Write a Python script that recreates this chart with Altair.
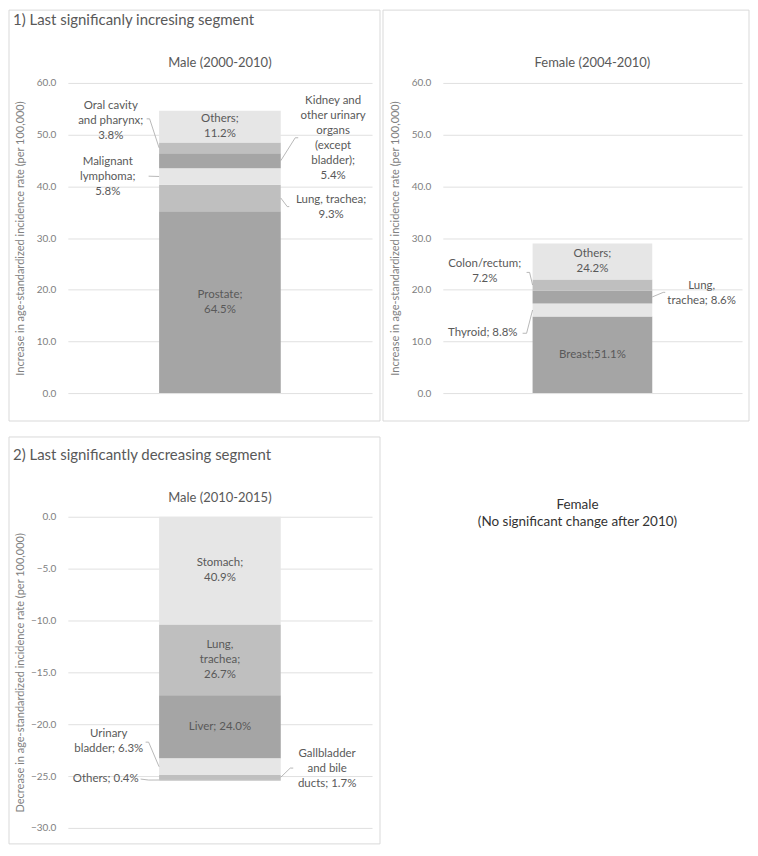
import altair as alt
import pandas as pd
import numpy as np

FONT = "Lato"
LABEL_C = "#595959"
AXIS_C = "#808080"
GRID_C = "#e0e0e0"
FRAME_C = "#d9d9d9"
LEAD_C = "#a6a6a6"
SHADES = {"dark": "#a5a5a5", "mid": "#bfbfbf", "light": "#e6e6e6"}
LH = 15  # label line height (px)

# ---------------- data (segments listed from the zero line outward) ----------------
# 1) Male, 2000-2010, increase in age-standardized incidence rate (per 100,000)
m_inc_sites = ["Prostate", "Lung, trachea", "Malignant lymphoma",
               "Kidney and other urinary organs (except bladder)",
               "Oral cavity and pharynx", "Others"]
m_inc_values = [35.2, 5.1, 3.2, 2.9, 2.1, 6.1]
m_inc_labels = ["Prostate;\n64.5%", "Lung, trachea;\n9.3%", "Malignant\nlymphoma;\n5.8%",
                "Kidney and\nother urinary\norgans\n(except\nbladder);\n5.4%",
                "Oral cavity\nand pharynx;\n3.8%", "Others;\n11.2%"]

# 1) Female, 2004-2010
f_inc_sites = ["Breast", "Thyroid", "Lung, trachea", "Colon/rectum", "Others"]
f_inc_values = [14.8, 2.55, 2.5, 2.1, 7.0]
f_inc_labels = ["Breast;51.1%", "Thyroid; 8.8%", "Lung,\ntrachea; 8.6%",
                "Colon/rectum;\n7.2%", "Others;\n24.2%"]

# 2) Male, 2010-2015, decrease
m_dec_sites = ["Stomach", "Lung, trachea", "Liver", "Urinary bladder",
               "Gallbladder and bile ducts", "Others"]
m_dec_values = [-10.4, -6.8, -6.1, -1.6, -0.43, -0.1]
m_dec_labels = ["Stomach;\n40.9%", "Lung,\ntrachea;\n26.7%", "Liver; 24.0%",
                "Urinary\nbladder; 6.3%", "Gallbladder\nand bile\nducts; 1.7%", "Others; 0.4%"]

# ---------------- styles / layout ----------------
m_inc_shades = ["dark", "mid", "light", "dark", "mid", "light"]
f_inc_shades = ["dark", "light", "dark", "mid", "light"]
m_dec_shades = ["light", "mid", "dark", "light", "mid", "dark"]

# outside labels: segment index -> label block centre (px), leader elbow points (px), bar side
m_inc_out = {
    4: dict(tx=43, ty=38, path=[(79, 36), (82, 36)], side="left"),
    2: dict(tx=40, ty=94, path=[(81, 93.5)], side="left"),
    3: dict(tx=266, ty=56, path=[(231, 55), (228, 55)], side="right"),
    1: dict(tx=264, ty=124.5, path=[(222, 124), (220, 124)], side="right"),
}
f_inc_out = {
    3: dict(tx=42, ty=189.5, path=[(84, 190), (87, 190)], side="left"),
    2: dict(tx=259.5, ty=211, path=[(223, 210), (221, 210)], side="right"),
    1: dict(tx=40, ty=251, path=[(80, 251), (84, 251)], side="left"),
}
m_dec_out = {
    3: dict(tx=41, ty=225.5, path=[(78, 226), (81, 226)], side="left"),
    5: dict(tx=38, ty=263, path=[(73, 263), (81, 264)], side="left"),
    4: dict(tx=260, ty=253, path=[(226, 252), (223, 252)], side="right"),
}

ONE = pd.DataFrame({"a": [1]})


def text_props(size=11.5, color=LABEL_C, lh=LH, align="center"):
    return dict(font=FONT, fontSize=size, color=color, lineBreak="\n",
                lineHeight=lh, align=align, baseline="middle")


def first_line_shift(label, lh=LH):
    # px to move the first line up so that the block is centred
    return (label.count("\n")) * lh / 2


def panel(sites, values, labels, shades, outside, W, H, dom, ticks, ytitle,
          pad_outer, frame, title, title_xy, subtitle, subtitle_xy):
    d0, d1 = dom
    per_px = (d1 - d0) / H
    vals = np.array(values, dtype=float)
    ends = np.cumsum(vals)
    starts = ends - vals
    mids = (starts + ends) / 2
    df = pd.DataFrame({
        "site": sites, "g": "bar", "y0": starts, "y1": ends, "mid": mids,
        "label": labels, "color": [SHADES[s] for s in shades],
    })
    df["v"] = df["mid"] + df["label"].map(first_line_shift) * per_px

    def px2v(py):
        return d1 - py * per_px

    step = W / (1 + 2 * pad_outer)
    bar_l = pad_outer * step
    bar_r = bar_l + step

    yscale = alt.Scale(domain=[d0, d1], nice=False, zero=False)
    yaxis = alt.Axis(values=ticks, format=".1f", labelFont=FONT, labelFontSize=10,
                     labelColor=AXIS_C, titleFont=FONT, titleFontSize=11,
                     titleColor=AXIS_C, titleFontWeight="normal", domain=False,
                     ticks=False, tickSize=0, labelPadding=12, titleX=-42,
                     grid=True, gridColor=GRID_C, gridWidth=1)

    def Y(field):
        return alt.Y(field, scale=yscale, title=ytitle, axis=yaxis)

    xband = alt.X("g:N", axis=None, scale=alt.Scale(paddingOuter=pad_outer, paddingInner=0))

    bars = alt.Chart(df).mark_bar().encode(
        x=xband, y=Y("y0:Q"), y2="y1:Q", color=alt.Color("color:N", scale=None))

    inside_idx = [i for i in range(len(sites)) if i not in outside]
    inside = alt.Chart(df.iloc[inside_idx]).mark_text(**text_props()).encode(
        x=xband, y=Y("v:Q"), text="label:N")

    out_rows, line_rows = [], []
    for i, spec in outside.items():
        out_rows.append({"label": labels[i], "px": spec["tx"],
                         "v": px2v(spec["ty"] - first_line_shift(labels[i]))})
        pts = list(spec["path"])
        for k, (px, py) in enumerate(pts):
            line_rows.append({"id": i, "k": k, "px": px, "v": px2v(py)})
        edge = bar_l if spec["side"] == "left" else bar_r
        line_rows.append({"id": i, "k": len(pts), "px": edge, "v": mids[i]})
    out_df = pd.DataFrame(out_rows)
    line_df = pd.DataFrame(line_rows)

    outs = alt.Chart(out_df).mark_text(**text_props()).encode(
        x=alt.X("px:Q", scale=None), y=Y("v:Q"), text="label:N")
    leaders = alt.Chart(line_df).mark_line(color=LEAD_C, strokeWidth=0.8).encode(
        x=alt.X("px:Q", scale=None), y=Y("v:Q"), detail="id:N", order="k:Q")

    fx0, fx1, fy0, fy1 = frame
    frame_m = alt.Chart(ONE).mark_rect(fillOpacity=0, stroke=FRAME_C, strokeWidth=1).encode(
        x=alt.value(fx0), x2=alt.value(fx1), y=alt.value(fy0), y2=alt.value(fy1))

    layers = [frame_m, bars, leaders, inside, outs]
    if title:
        layers.append(alt.Chart(ONE).mark_text(**text_props(15, LABEL_C, 17, "left")).encode(
            x=alt.value(title_xy[0]), y=alt.value(title_xy[1]), text=alt.value(title)))
    layers.append(alt.Chart(ONE).mark_text(**text_props(13, LABEL_C, 16)).encode(
        x=alt.value(subtitle_xy[0]), y=alt.value(subtitle_xy[1]), text=alt.value(subtitle)))

    return alt.layer(*layers).resolve_scale(x="independent").properties(width=W, height=H)


inc_ticks = [0, 10, 20, 30, 40, 50, 60]
dec_ticks = [0, -5, -10, -15, -20, -25, -30]
inc_title = "Increase in age-standardized incidence rate (per 100,000)"
dec_title = "Decrease in age-standardized incidence rate (per 100,000)"

A = panel(m_inc_sites, m_inc_values, m_inc_labels, m_inc_shades, m_inc_out,
          305, 311, (0, 60), inc_ticks, inc_title, 0.75, (-59, 313, -73, 339),
          "1) Last significanly incresing segment", (-55, -63),
          "Male (2000-2010)", (152.5, -20))
B = panel(f_inc_sites, f_inc_values, f_inc_labels, f_inc_shades, f_inc_out,
          300, 311, (0, 60), inc_ticks, inc_title, 0.75, (-60, 307, -73, 339),
          None, None, "Female (2004-2010)", (150, -20))
C = panel(m_dec_sites, m_dec_values, m_dec_labels, m_dec_shades, m_dec_out,
          305, 312, (-30, 0), dec_ticks, dec_title, 0.75, (-59, 313, -80, 328),
          "2) Last significantly decreasing segment", (-55, -62),
          "Male (2010-2015)", (152.5, -19))

D_frame = alt.Chart(ONE).mark_rect(fillOpacity=0, stroke="#ffffff", strokeWidth=1).encode(
    x=alt.value(-60), x2=alt.value(307), y=alt.value(-80), y2=alt.value(328))
D_label = "Female\n(No significant change after 2010)"
D_text = alt.Chart(ONE).mark_text(**text_props(13.5, "#333333", 17)).encode(
    x=alt.value(135), y=alt.value(-3.5 - first_line_shift(D_label, 17)),
    text=alt.value(D_label))
D = alt.layer(D_frame, D_text).properties(width=300, height=312)

chart = alt.vconcat(
    alt.hconcat(A, B, spacing=1),
    alt.hconcat(C, D, spacing=1),
    spacing=14,
).properties(padding=0).configure_view(stroke="transparent")

chart.save("out.html", embed_options={"renderer": "svg", "actions": False})
